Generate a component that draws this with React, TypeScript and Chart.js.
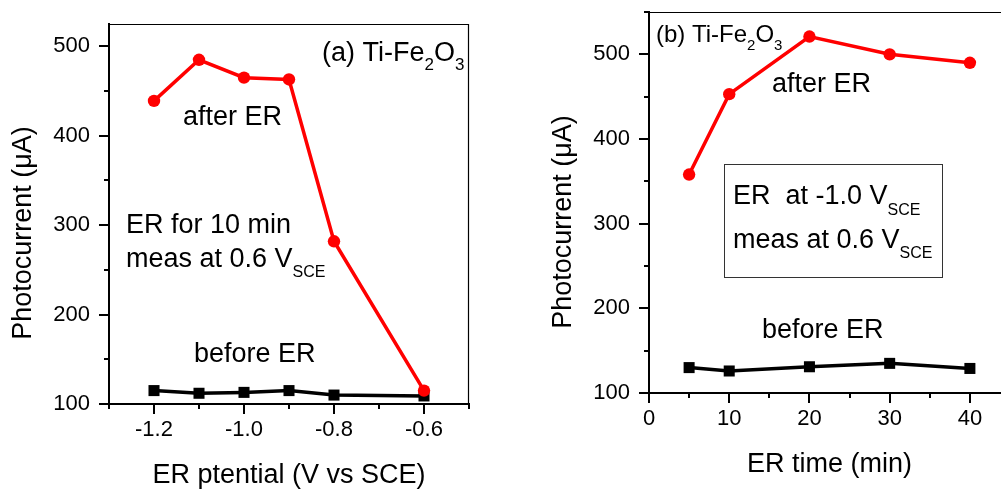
import React, { useEffect, useRef } from "react";
import { Chart, registerables } from "chart.js";

Chart.register(...registerables);

const FONT = "'Liberation Sans', Arial, Helvetica, sans-serif";

// ---- Panel (a): photocurrent vs ER potential ----
const erPotentials = [-1.2, -1.1, -1.0, -0.9, -0.8, -0.6];
const afterErByPotential = [439, 485, 465, 463, 282, 115];
const beforeErByPotential = [115, 112, 113, 115, 110, 109];
const potentialMajorTicks = [-1.2, -1.0, -0.8, -0.6];
const potentialMinorTicks = [-1.3, -1.1, -0.9, -0.7, -0.5];
const currentMajorTicksA = [100, 200, 300, 400, 500];
const currentMinorTicksA = [150, 250, 350, 450];

// ---- Panel (b): photocurrent vs ER time ----
const erTimes = [5, 10, 20, 30, 40];
const afterErByTime = [358, 453, 521, 500, 490];
const beforeErByTime = [130, 126, 131, 135, 129];
const timeMajorTicks = [0, 10, 20, 30, 40];
const timeMinorTicks = [5, 15, 25, 35, 45];
const currentMajorTicksB = [100, 200, 300, 400, 500];
const currentMinorTicksB = [150, 250, 350, 450, 550];

const RED = "#ff0000";
const BLACK = "#000000";
const TITLE_SIZE = 27;

type Piece = { t: string; sub?: boolean };
type Label = { x: number; y: number; size: number; subSize?: number; subDrop?: number; parts: Piece[] };

function drawRich(ctx: CanvasRenderingContext2D, l: Label) {
  let cx = l.x;
  ctx.textAlign = "left";
  ctx.textBaseline = "alphabetic";
  ctx.fillStyle = BLACK;
  for (const p of l.parts) {
    const s = p.sub ? l.subSize ?? 16 : l.size;
    ctx.font = `${s}px ${FONT}`;
    ctx.fillText(p.t, cx, p.sub ? l.y + (l.subDrop ?? 10) : l.y);
    cx += ctx.measureText(p.t).width;
  }
}

function makeDecor(o: {
  yTitle: string;
  yTitleX: number;
  yTitleY: number;
  labels: Label[];
  box?: { x: number; y: number; w: number; h: number };
  majorX: number[];
  minorX: number[];
  majorY: number[];
  minorY: number[];
}) {
  return {
    id: "decor",
    afterDraw(chart: any) {
      const ctx: CanvasRenderingContext2D = chart.ctx;
      const a = chart.chartArea;
      const xs = chart.scales.x;
      const ys = chart.scales.y;
      ctx.save();
      // thin top and right frame
      ctx.strokeStyle = BLACK;
      ctx.lineWidth = 1.2;
      ctx.beginPath();
      ctx.moveTo(a.left, a.top + 0.5);
      ctx.lineTo(a.right - 0.5, a.top + 0.5);
      ctx.lineTo(a.right - 0.5, a.bottom);
      ctx.stroke();
      // outward ticks
      ctx.lineWidth = 2;
      const tickX = (v: number, len: number) => {
        const px = Math.round(xs.getPixelForValue(v));
        ctx.beginPath();
        ctx.moveTo(px, a.bottom);
        ctx.lineTo(px, a.bottom + len);
        ctx.stroke();
      };
      const tickY = (v: number, len: number) => {
        const py = Math.round(ys.getPixelForValue(v));
        ctx.beginPath();
        ctx.moveTo(a.left, py);
        ctx.lineTo(a.left - len, py);
        ctx.stroke();
      };
      o.majorX.forEach((v) => tickX(v, 10));
      o.minorX.forEach((v) => tickX(v, 5));
      o.majorY.forEach((v) => tickY(v, 10));
      o.minorY.forEach((v) => tickY(v, 5));
      // y title
      ctx.save();
      ctx.translate(o.yTitleX, o.yTitleY);
      ctx.rotate(-Math.PI / 2);
      ctx.textAlign = "center";
      ctx.textBaseline = "middle";
      ctx.fillStyle = BLACK;
      ctx.font = `${TITLE_SIZE}px ${FONT}`;
      ctx.fillText(o.yTitle, 0, 0);
      ctx.restore();
      // box
      if (o.box) {
        ctx.lineWidth = 1;
        ctx.strokeStyle = "#333";
        ctx.strokeRect(o.box.x + 0.5, o.box.y + 0.5, o.box.w, o.box.h);
      }
      o.labels.forEach((l) => drawRich(ctx, l));
      ctx.restore();
    },
  };
}

function baseScales(opts: {
  xMin: number;
  xMax: number;
  xTicks: number[];
  xFmt: (v: number) => string;
  xTitle: string;
  xTitlePad: number;
  xHeight: number;
  yMin: number;
  yMax: number;
  yTicks: number[];
  yWidth: number;
}) {
  return {
    x: {
      type: "linear" as const,
      min: opts.xMin,
      max: opts.xMax,
      afterBuildTicks: (s: any) => {
        s.ticks = opts.xTicks.map((v) => ({ value: v }));
      },
      afterFit: (s: any) => {
        s.height = opts.xHeight;
        s.paddingLeft = 0;
        s.paddingRight = 0;
        s.paddingTop = 0;
        s.paddingBottom = 0;
      },
      grid: { display: false, drawTicks: false },
      border: { display: true, color: BLACK, width: 2 },
      ticks: {
        padding: 13,
        color: BLACK,
        autoSkip: false,
        maxRotation: 0,
        font: { family: FONT, size: 22 },
        callback: (v: any) => opts.xFmt(Number(v)),
      },
      title: {
        display: true,
        text: opts.xTitle,
        color: BLACK,
        font: { family: FONT, size: TITLE_SIZE, lineHeight: 1 },
        padding: { top: 0, bottom: opts.xTitlePad },
      },
    },
    y: {
      type: "linear" as const,
      min: opts.yMin,
      max: opts.yMax,
      afterBuildTicks: (s: any) => {
        s.ticks = opts.yTicks.map((v) => ({ value: v }));
      },
      afterFit: (s: any) => {
        s.width = opts.yWidth;
        s.paddingLeft = 0;
        s.paddingRight = 0;
        s.paddingTop = 0;
        s.paddingBottom = 0;
      },
      grid: { display: false, drawTicks: false },
      border: { display: true, color: BLACK, width: 2 },
      ticks: {
        padding: 19,
        color: BLACK,
        autoSkip: false,
        font: { family: FONT, size: 22 },
        callback: (v: any) => String(v),
      },
      title: { display: false },
    },
  };
}

function series(xs: number[], ys: number[], color: string, style: "circle" | "rect", radius: number) {
  return {
    data: xs.map((x, i) => ({ x, y: ys[i] })),
    borderColor: color,
    backgroundColor: color,
    borderWidth: 3.5,
    pointStyle: style,
    pointRadius: radius,
    pointBorderWidth: 0,
    pointHoverRadius: radius,
    tension: 0,
    clip: false as const,
  };
}

export default function App() {
  const leftRef = useRef<HTMLCanvasElement>(null);
  const rightRef = useRef<HTMLCanvasElement>(null);

  useEffect(() => {
    const left = new Chart(leftRef.current!, {
      type: "line",
      data: {
        datasets: [
          series(erPotentials, afterErByPotential, RED, "circle", 6.2),
          series(erPotentials, beforeErByPotential, BLACK, "rect", 7.8),
        ],
      },
      options: {
        responsive: false,
        animation: false,
        devicePixelRatio: 1,
        layout: { padding: { left: 0, top: 24, right: 31, bottom: 0 } },
        plugins: { legend: { display: false }, tooltip: { enabled: false } },
        scales: baseScales({
          xMin: -1.3,
          xMax: -0.5,
          xTicks: potentialMajorTicks,
          xFmt: (v) => v.toFixed(1),
          xTitle: "ER ptential (V vs SCE)",
          xTitlePad: 0,
          xHeight: 85,
          yMin: 100,
          yMax: 525,
          yTicks: currentMajorTicksA,
          yWidth: 109,
        }),
      },
      plugins: [
        makeDecor({
          yTitle: "Photocurrent (\u03bcA)",
          yTitleX: 23.5,
          yTitleY: 233,
          majorX: potentialMajorTicks,
          minorX: potentialMinorTicks,
          majorY: currentMajorTicksA,
          minorY: currentMinorTicksA,
          labels: [
            {
              x: 322,
              y: 61,
              size: 27,
              subSize: 17,
              subDrop: 9,
              parts: [{ t: "(a) Ti-Fe" }, { t: "2", sub: true }, { t: "O" }, { t: "3", sub: true }],
            },
            { x: 183, y: 125, size: 27, parts: [{ t: "after ER" }] },
            { x: 126, y: 233, size: 27, parts: [{ t: "ER for 10 min" }] },
            {
              x: 126,
              y: 267,
              size: 27,
              subSize: 16,
              subDrop: 10,
              parts: [{ t: "meas at 0.6 V" }, { t: "SCE", sub: true }],
            },
            { x: 194, y: 362, size: 27, parts: [{ t: "before ER" }] },
          ],
        }) as any,
      ],
    } as any);

    const right = new Chart(rightRef.current!, {
      type: "line",
      data: {
        datasets: [
          series(erTimes, afterErByTime, RED, "circle", 6.2),
          series(erTimes, beforeErByTime, BLACK, "rect", 7.8),
        ],
      },
      options: {
        responsive: false,
        animation: false,
        devicePixelRatio: 1,
        layout: { padding: { left: 0, top: 12, right: 30, bottom: 0 } },
        plugins: { legend: { display: false }, tooltip: { enabled: false } },
        scales: baseScales({
          xMin: 0,
          xMax: 45,
          xTicks: timeMajorTicks,
          xFmt: (v) => String(v),
          xTitle: "ER time (min)",
          xTitlePad: 11,
          xHeight: 96,
          yMin: 100,
          yMax: 550,
          yTicks: currentMajorTicksB,
          yWidth: 149,
        }),
      },
      plugins: [
        makeDecor({
          yTitle: "Photocurrent (\u03bcA)",
          yTitleX: 63.5,
          yTitleY: 222,
          majorX: timeMajorTicks,
          minorX: timeMinorTicks,
          majorY: currentMajorTicksB,
          minorY: currentMinorTicksB,
          box: { x: 224, y: 164, w: 218, h: 113 },
          labels: [
            {
              x: 156,
              y: 42,
              size: 24,
              subSize: 15,
              subDrop: 8,
              parts: [{ t: "(b) Ti-Fe" }, { t: "2", sub: true }, { t: "O" }, { t: "3", sub: true }],
            },
            { x: 272, y: 92, size: 27, parts: [{ t: "after ER" }] },
            {
              x: 233,
              y: 204,
              size: 27,
              subSize: 16,
              subDrop: 11,
              parts: [{ t: "ER  at -1.0 V" }, { t: "SCE", sub: true }],
            },
            {
              x: 233,
              y: 248,
              size: 27,
              subSize: 16,
              subDrop: 10,
              parts: [{ t: "meas at 0.6 V" }, { t: "SCE", sub: true }],
            },
            { x: 262, y: 338, size: 27, parts: [{ t: "before ER" }] },
          ],
        }) as any,
      ],
    } as any);

    return () => {
      left.destroy();
      right.destroy();
    };
  }, []);

  return (
    <div
      style={{
        position: "fixed",
        left: 0,
        top: 0,
        width: 1001,
        height: 489,
        overflow: "hidden",
        background: "#fff",
      }}
    >
      <div style={{ position: "absolute", left: 0, top: 0, width: 500, height: 489 }}>
        <canvas ref={leftRef} width={500} height={489} style={{ display: "block" }} />
      </div>
      <div style={{ position: "absolute", left: 500, top: 0, width: 540, height: 489 }}>
        <canvas ref={rightRef} width={540} height={489} style={{ display: "block" }} />
      </div>
    </div>
  );
}
